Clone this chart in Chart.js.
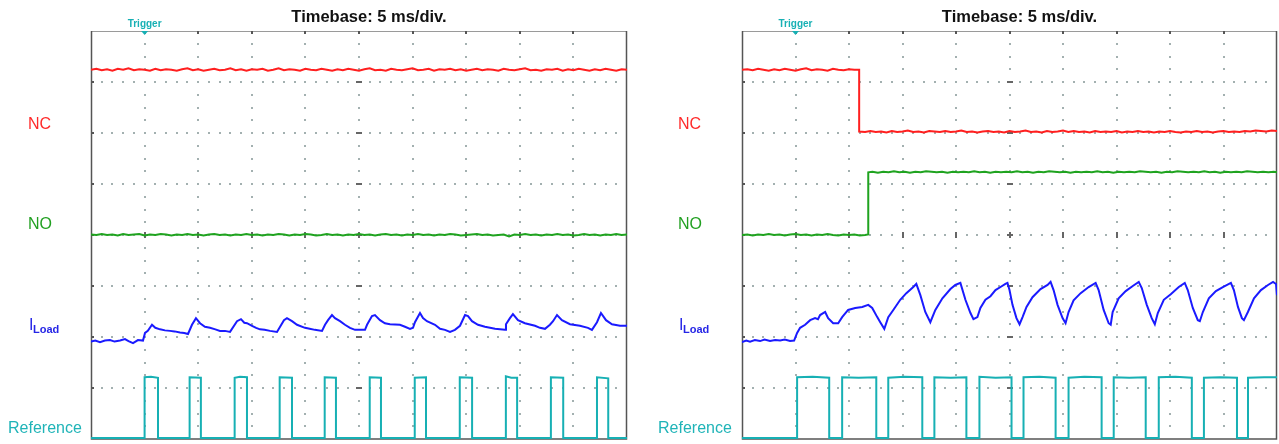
<!DOCTYPE html>
<html>
<head>
<meta charset="utf-8">
<script src="https://cdn.jsdelivr.net/npm/chart.js@4.4.1/dist/chart.umd.min.js"></script>
<style>
  html, body { margin: 0; padding: 0; background: #fff; }
  #wrap { position: relative; width: 1279px; height: 444px; }
  canvas { position: absolute; top: 0; }
</style>
</head>
<body>
<div id="wrap">
  <canvas id="left" width="640" height="444" style="left:0"></canvas>
  <canvas id="right" width="639" height="444" style="left:640px"></canvas>
</div>
<script>
// x = time in ms (5 ms/div, 10 div), y = level in divisions (8 div)
const titleText = "Timebase: 5 ms/div.";
const triggerText = "Trigger";
const triggerTime = 5;
const traceNames = ["NC", "NO", "ILoad", "Reference"];

// ---- left capture: relay not switching ----
const leftNC = [[0,7.24],[0.5,7.26],[1,7.23],[1.5,7.25],[2,7.22],[2.5,7.26],[3,7.24],[3.5,7.27],[4,7.23],[4.5,7.25],[5,7.24],[5.5,7.22],[6,7.26],[6.5,7.23],[7,7.25],[7.5,7.24],[8,7.22],[8.5,7.25],[9,7.27],[9.5,7.23],[10,7.25],[10.5,7.22],[11,7.24],[11.5,7.26],[12,7.23],[12.5,7.24],[13,7.27],[13.5,7.23],[14,7.25],[14.5,7.22],[15,7.25],[15.5,7.24],[16,7.26],[16.5,7.22],[17,7.24],[17.5,7.27],[18,7.23],[18.5,7.25],[19,7.24],[19.5,7.22],[20,7.26],[20.5,7.24],[21,7.23],[21.5,7.26],[22,7.24],[22.5,7.22],[23,7.25],[23.5,7.23],[24,7.26],[24.5,7.24],[25,7.22],[25.5,7.25],[26,7.27],[26.5,7.23],[27,7.24],[27.5,7.22],[28,7.26],[28.5,7.24],[29,7.23],[29.5,7.25],[30,7.27],[30.5,7.23],[31,7.24],[31.5,7.26],[32,7.22],[32.5,7.25],[33,7.24],[33.5,7.26],[34,7.23],[34.5,7.25],[35,7.22],[35.5,7.24],[36,7.26],[36.5,7.23],[37,7.25],[37.5,7.24],[38,7.22],[38.5,7.26],[39,7.24],[39.5,7.23],[40,7.25],[40.5,7.27],[41,7.23],[41.5,7.24],[42,7.22],[42.5,7.25],[43,7.24],[43.5,7.26],[44,7.22],[44.5,7.25],[45,7.23],[45.5,7.26],[46,7.24],[46.5,7.22],[47,7.25],[47.5,7.23],[48,7.26],[48.5,7.24],[49,7.22],[49.5,7.25],[50,7.24]];

const leftNO = [[0,4.01],[0.5,4.0],[1,4.02],[1.5,4.0],[2,4.01],[2.5,3.99],[3,4.02],[3.5,4.0],[4,4.01],[4.5,4.02],[5,3.99],[5.5,4.01],[6,4.0],[6.5,4.02],[7,4.01],[7.5,3.99],[8,4.01],[8.5,4.0],[9,4.02],[9.5,4.0],[10,4.01],[10.5,3.99],[11,4.01],[11.5,4.02],[12,4.0],[12.5,4.01],[13,3.99],[13.5,4.01],[14,4.0],[14.5,4.02],[15,4.0],[15.5,4.01],[16,3.99],[16.5,4.01],[17,4.0],[17.5,4.02],[18,4.01],[18.5,3.99],[19,4.01],[19.5,4.0],[20,4.02],[20.5,4.01],[21,3.99],[21.5,4.0],[22,4.02],[22.5,4.0],[23,4.01],[23.5,3.99],[24,4.01],[24.5,4.0],[25,4.02],[25.5,4.0],[26,4.01],[26.5,3.99],[27,4.01],[27.5,4.02],[28,4.0],[28.5,4.01],[29,3.99],[29.5,4.01],[30,4.0],[30.5,4.02],[31,4.0],[31.5,4.01],[32,3.99],[32.5,4.01],[33,4.0],[33.5,4.02],[34,4.01],[34.5,3.99],[35,4.0],[35.5,4.01],[36,4.02],[36.5,4.0],[37,4.01],[37.5,3.99],[38,4.0],[38.5,4.01],[39,3.97],[39.5,4.01],[40,4.0],[40.5,4.02],[41,4.0],[41.5,4.01],[42,3.99],[42.5,4.01],[43,4.0],[43.5,4.02],[44,4.0],[44.5,4.01],[45,3.99],[45.5,4.0],[46,4.02],[46.5,4.0],[47,4.01],[47.5,3.99],[48,4.01],[48.5,4.0],[49,4.02],[49.5,4.0],[50,4.01]];

const leftILoad = [[0,1.91],[0.4,1.93],[0.84,1.90],[1.3,1.93],[1.77,1.94],[2.2,1.91],[2.71,1.93],[3.17,1.96],[3.5,1.92],[3.92,1.88],[4.38,1.94],[4.85,1.93],
  [5.04,2.08],[5.3,2.12],[5.69,2.24],[6.0,2.18],[6.44,2.15],[6.9,2.13],[7.37,2.12],[7.8,2.11],[8.30,2.09],[8.7,2.08],[9.05,2.06],
  [9.42,2.24],[9.79,2.37],[10.17,2.27],[10.63,2.20],[11.10,2.18],[11.6,2.15],[12.03,2.12],[12.5,2.12],[12.97,2.10],
  [13.62,2.31],[13.99,2.35],[14.3,2.28],[14.55,2.27],[15.02,2.22],[15.4,2.18],[15.76,2.15],[16.2,2.14],[16.70,2.12],[17.35,2.10],
  [18.00,2.33],[18.28,2.37],[18.75,2.31],[19.22,2.24],[19.96,2.18],[20.4,2.16],[20.89,2.14],[21.55,2.12],
  [21.83,2.24],[22.11,2.33],[22.48,2.43],[22.76,2.37],[23.23,2.31],[23.69,2.24],[24.16,2.18],[24.63,2.14],[25.09,2.14],[25.56,2.14],
  [25.75,2.24],[26.21,2.41],[26.49,2.43],[26.96,2.33],[27.42,2.27],[27.89,2.25],[28.82,2.24],[29.29,2.20],[29.76,2.16],[30.04,2.18],
  [30.22,2.29],[30.69,2.47],[30.97,2.37],[31.34,2.31],[32.09,2.24],[32.56,2.16],[33.02,2.14],[33.49,2.10],[33.95,2.14],[34.42,2.22],
  [34.89,2.43],[35.17,2.41],[35.54,2.31],[36.10,2.24],[36.75,2.20],[37.69,2.16],[38.62,2.14],
  [38.71,2.25],[39.08,2.37],[39.36,2.45],[39.83,2.33],[40.48,2.27],[41.42,2.22],[41.88,2.18],[42.35,2.16],[42.81,2.24],
  [43.10,2.31],[43.47,2.43],[43.93,2.33],[44.68,2.25],[45.61,2.22],[46.36,2.18],[46.73,2.14],
  [47.20,2.29],[47.57,2.47],[48.04,2.33],[48.60,2.25],[49.35,2.22],[50,2.22]];

const leftRef = [[0,0.02],[5.0,0.02],[5.0,1.21],[5.6,1.22],[6.25,1.2],[6.25,0.02],[9.2,0.02],[9.2,1.21],[10.25,1.2],[10.25,0.02],
  [13.4,0.02],[13.4,1.2],[13.9,1.22],[14.55,1.21],[14.55,0.02],[17.6,0.02],[17.6,1.21],[18.75,1.2],[18.75,0.02],
  [21.8,0.02],[21.8,1.21],[22.85,1.2],[22.85,0.02],[26.0,0.02],[26.0,1.21],[27.05,1.2],[27.05,0.02],
  [30.2,0.02],[30.2,1.2],[31.25,1.21],[31.25,0.02],[34.4,0.02],[34.4,1.21],[35.55,1.2],[35.55,0.02],
  [38.7,0.02],[38.7,1.23],[39.2,1.2],[39.75,1.2],[39.75,0.02],[42.9,0.02],[42.9,1.21],[44.05,1.2],[44.05,0.02],
  [47.2,0.02],[47.2,1.21],[48.25,1.19],[48.25,0.02],[50,0.02]];

// ---- right capture: relay switching ----
const rightNC = [[0,7.24],[0.5,7.25],[1,7.23],[1.5,7.26],[2,7.24],[2.5,7.22],[3,7.25],[3.5,7.23],[4,7.26],[4.5,7.24],[5,7.22],[5.5,7.25],[6,7.27],[6.5,7.23],[7,7.25],[7.5,7.24],[8,7.22],[8.5,7.26],[9,7.24],[9.5,7.23],[10,7.25],[10.5,7.24],[10.95,7.24],
  [10.95,6.03],[11.5,6.02],[12,6.04],[12.5,6.02],[13,6.03],[13.5,6.01],[14,6.04],[14.5,6.02],[15,6.03],[15.5,6.05],[16,6.02],[16.5,6.03],[17,6.01],[17.5,6.04],[18,6.03],[18.5,6.02],[19,6.04],[19.5,6.02],[20,6.03],[20.5,6.05],[21,6.02],[21.5,6.03],[22,6.01],[22.5,6.03],[23,6.04],[23.5,6.02],[24,6.03],[24.5,6.01],[25,6.04],[25.5,6.02],[26,6.03],[26.5,6.05],[27,6.02],[27.5,6.03],[28,6.01],[28.5,6.04],[29,6.02],[29.5,6.03],[30,6.05],[30.5,6.02],[31,6.04],[31.5,6.02],[32,6.03],[32.5,6.01],[33,6.04],[33.5,6.02],[34,6.03],[34.5,6.02],[35,6.04],[35.5,6.01],[36,6.03],[36.5,6.02],[37,6.04],[37.5,6.02],[38,6.03],[38.5,6.01],[39,6.03],[39.5,6.02],[40,6.04],[40.5,6.02],[41,6.01],[41.5,6.03],[42,6.02],[42.5,6.04],[43,6.02],[43.5,6.03],[44,6.01],[44.5,6.03],[45,6.04],[45.5,6.02],[46,6.03],[46.5,6.02],[47,6.04],[47.5,6.03],[48,6.05],[48.5,6.04],[49,6.03],[49.5,6.05],[50,6.04]];

const rightNO = [[0,4.0],[0.5,4.01],[1,3.99],[1.5,4.01],[2,4.0],[2.5,4.02],[3,4.0],[3.5,4.01],[4,3.99],[4.5,4.01],[5,4.02],[5.5,4.0],[6,4.01],[6.5,3.99],[7,4.01],[7.5,4.0],[8,4.02],[8.5,4.0],[9,3.99],[9.5,4.01],[10,4.0],[10.5,4.01],[11,3.99],[11.5,4.0],[11.8,4.01],
  [11.8,5.23],[12.2,5.24],[12.7,5.22],[13.2,5.24],[13.7,5.23],[14.2,5.25],[14.7,5.23],[15.2,5.24],[15.7,5.22],[16.2,5.24],[16.7,5.23],[17.2,5.25],[17.7,5.24],[18.2,5.23],[18.7,5.24],[19.2,5.22],[19.7,5.24],[20.2,5.23],[20.7,5.24],[21.2,5.23],[21.7,5.25],[22.2,5.23],[22.7,5.24],[23.2,5.22],[23.7,5.24],[24.2,5.23],[24.7,5.24],[25.2,5.23],[25.7,5.25],[26.2,5.23],[26.7,5.24],[27.2,5.22],[27.7,5.24],[28.2,5.23],[28.7,5.25],[29.2,5.24],[29.7,5.23],[30.2,5.24],[30.7,5.22],[31.2,5.24],[31.7,5.23],[32.2,5.24],[32.7,5.23],[33.2,5.25],[33.7,5.23],[34.2,5.24],[34.7,5.22],[35.2,5.24],[35.7,5.23],[36.2,5.24],[36.7,5.23],[37.2,5.25],[37.7,5.24],[38.2,5.23],[38.7,5.24],[39.2,5.22],[39.7,5.24],[40.2,5.23],[40.7,5.25],[41.2,5.24],[41.7,5.23],[42.2,5.24],[42.7,5.23],[43.2,5.25],[43.7,5.23],[44.2,5.24],[44.7,5.22],[45.2,5.24],[45.7,5.23],[46.2,5.24],[46.7,5.23],[47.2,5.25],[47.7,5.24],[48.2,5.23],[48.7,5.24],[49.2,5.23],[49.7,5.24],[50,5.23]];

const rightILoad = [[0,1.90],[0.4,1.93],[0.75,1.91],[1.2,1.94],[1.69,1.92],[2.1,1.95],[2.62,1.92],[3.1,1.94],[3.56,1.93],[4.0,1.95],[4.49,1.92],[4.87,1.93],
  [5.15,2.08],[5.43,2.18],[5.90,2.24],[6.37,2.33],[6.83,2.37],[7.1,2.35],[7.30,2.43],[7.77,2.49],[8.05,2.37],[8.52,2.27],[8.99,2.27],
  [9.36,2.39],[9.92,2.53],[10.58,2.57],[11.24,2.59],[11.80,2.63],[12.17,2.57],[12.64,2.39],[12.92,2.29],[13.30,2.16],
  [13.67,2.39],[14.14,2.53],[14.79,2.73],[15.36,2.86],[16.01,2.98],[16.29,3.04],[16.67,2.82],[17.13,2.49],[17.60,2.29],
  [18.07,2.53],[18.73,2.76],[19.48,2.94],[19.94,3.02],[20.41,3.06],[20.88,2.73],[21.35,2.47],[21.63,2.35],[22.00,2.39],
  [22.28,2.57],[22.75,2.73],[23.22,2.80],[23.69,2.92],[24.16,2.98],[24.62,3.04],[24.81,3.06],[25.00,2.92],[25.28,2.63],[25.65,2.37],[25.94,2.25],
  [26.22,2.39],[26.59,2.59],[27.15,2.78],[27.90,2.94],[28.56,3.02],[28.84,3.08],[29.12,2.92],[29.49,2.63],[29.96,2.37],[30.24,2.27],
  [30.52,2.49],[30.99,2.72],[31.65,2.86],[32.40,2.98],[33.05,3.06],[33.33,2.92],[33.80,2.53],[34.27,2.27],[34.46,2.24],
  [34.64,2.49],[35.20,2.76],[35.86,2.90],[36.52,3.00],[37.08,3.08],[37.36,2.96],[37.83,2.63],[38.29,2.37],[38.58,2.25],
  [38.86,2.47],[39.42,2.73],[40.07,2.84],[40.82,2.98],[41.38,3.06],[41.66,2.92],[42.13,2.57],[42.60,2.33],[42.79,2.31],
  [43.07,2.49],[43.63,2.76],[44.29,2.90],[44.94,2.98],[45.69,3.06],[45.97,2.92],[46.35,2.59],[46.72,2.37],[46.91,2.33],
  [47.28,2.49],[47.85,2.76],[48.50,2.92],[49.16,3.02],[49.63,3.08],[49.91,3.04],[50,2.82]];

const rightRef = [[0,0.02],[5.15,0.02],[5.15,1.21],[6.6,1.22],[8.15,1.2],[8.15,0.02],[9.36,0.02],[9.36,1.21],[10.9,1.2],[12.55,1.21],[12.55,0.02],
  [13.67,0.02],[13.67,1.2],[15.2,1.22],[16.85,1.21],[16.85,0.02],[17.98,0.02],[17.98,1.21],[19.5,1.2],[20.97,1.21],[20.97,0.02],
  [22.19,0.02],[22.19,1.22],[23.7,1.2],[25.19,1.21],[25.19,0.02],[26.31,0.02],[26.31,1.21],[27.8,1.22],[29.31,1.2],[29.31,0.02],
  [30.52,0.02],[30.52,1.2],[32.0,1.22],[33.61,1.21],[33.61,0.02],[34.74,0.02],[34.74,1.21],[36.2,1.2],[37.73,1.21],[37.73,0.02],
  [38.95,0.02],[38.95,1.21],[40.5,1.22],[42.04,1.2],[42.04,0.02],[43.17,0.02],[43.17,1.2],[44.7,1.21],[46.26,1.2],[46.26,0.02],
  [47.29,0.02],[47.29,1.2],[48.8,1.21],[50,1.21]];

// ---- drawing ----
const traceColors = ["#ff1f1f", "#1fa31f", "#1a1aff", "#17b0b4"];
const labelColors = ["#ff2a2a", "#22a022", "#2626e6", "#20b4b8"];
const labelLevels = [6.16, 4.2, 2.2, 0.21];

const scopePlugin = {
  id: "scope",
  beforeDatasetsDraw(chart) {
    const { ctx, chartArea: a, scales: { x, y } } = chart;
    ctx.save();
    // dotted graticule
    ctx.fillStyle = "#a3b0b0";
    for (let i = 1; i < 10; i++) {
      const px = Math.round(x.getPixelForValue(i * 5));
      for (let k = 1; k < 32; k++) {
        const py = Math.round(y.getPixelForValue(k * 0.25));
        ctx.fillRect(px - 1, py - 1, 2, 2);
      }
    }
    for (let j = 1; j < 8; j++) {
      const py = Math.round(y.getPixelForValue(j));
      for (let k = 1; k < 50; k++) {
        const px = Math.round(x.getPixelForValue(k));
        ctx.fillRect(px - 1, py - 1, 2, 2);
      }
    }
    // centre axis marks
    ctx.fillStyle = "#666";
    const cx = Math.round(x.getPixelForValue(25));
    for (let j = 1; j < 8; j++) {
      const py = Math.round(y.getPixelForValue(j));
      ctx.fillRect(cx - 3, py - 1, 6, 2);
    }
    const cy = Math.round(y.getPixelForValue(4));
    for (let i = 1; i < 10; i++) {
      const px = Math.round(x.getPixelForValue(i * 5));
      ctx.fillRect(px - 1, cy - 3, 2, 6);
    }
    // frame
    ctx.strokeStyle = "#9a9a9a";
    ctx.lineWidth = 1;
    ctx.beginPath();
    ctx.moveTo(a.left, a.top + 0.5);
    ctx.lineTo(a.right, a.top + 0.5);
    ctx.stroke();
    ctx.strokeStyle = "#555";
    ctx.lineWidth = 1.5;
    ctx.beginPath();
    ctx.moveTo(a.left + 0.5, a.top);
    ctx.lineTo(a.left + 0.5, a.bottom);
    ctx.lineTo(a.right - 0.5, a.bottom);
    ctx.lineTo(a.right - 0.5, a.top);
    ctx.stroke();
    ctx.fillStyle = "#555";
    for (let i = 1; i < 10; i++) {
      const px = Math.round(x.getPixelForValue(i * 5));
      ctx.fillRect(px - 1, a.top, 2, 3);
    }
    for (let j = 1; j < 8; j++) {
      const py = Math.round(y.getPixelForValue(j));
      ctx.fillRect(a.left, py - 1, 3, 2);
    }
    ctx.restore();
  },
  afterDraw(chart, args, opts) {
    const { ctx, chartArea: a, scales: { x, y } } = chart;
    ctx.save();
    // title
    ctx.fillStyle = "#111";
    ctx.font = "bold 16.5px 'Liberation Sans', Arial, sans-serif";
    ctx.textAlign = "center";
    ctx.textBaseline = "middle";
    ctx.fillText(titleText, (a.left + a.right) / 2 + 10, 17);
    // trigger
    const tx = x.getPixelForValue(triggerTime);
    ctx.fillStyle = "#17b0b4";
    ctx.font = "bold 10px 'Liberation Sans', Arial, sans-serif";
    ctx.fillText(triggerText, tx, 24);
    ctx.beginPath();
    ctx.moveTo(tx - 3.5, a.top);
    ctx.lineTo(tx + 3.5, a.top);
    ctx.lineTo(tx, a.top + 4);
    ctx.closePath();
    ctx.fill();
    // trace names
    ctx.textAlign = "left";
    traceNames.forEach((name, i) => {
      const py = y.getPixelForValue(labelLevels[i]);
      const lx = (name === "Reference" ? opts.refX : opts.labelX);
      ctx.fillStyle = labelColors[i];
      if (name === "ILoad") {
        ctx.font = "16px 'Liberation Sans', Arial, sans-serif";
        ctx.fillText("I", lx + 1, py - 1);
        ctx.font = "bold 11px 'Liberation Sans', Arial, sans-serif";
        ctx.fillText("Load", lx + 5, py + 3);
      } else {
        ctx.font = "16px 'Liberation Sans', Arial, sans-serif";
        ctx.fillText(name, lx, py);
      }
    });
    ctx.restore();
  }
};

function makeScope(id, padLeft, padRight, labelX, refX, traces) {
  return new Chart(document.getElementById(id), {
    type: "line",
    data: {
      datasets: traces.map((t, i) => ({
        label: traceNames[i],
        data: t.map(p => ({ x: p[0], y: p[1] })),
        borderColor: traceColors[i],
        borderWidth: 2,
        pointRadius: 0,
        tension: 0,
        fill: false
      }))
    },
    options: {
      responsive: false,
      animation: false,
      devicePixelRatio: 1,
      layout: { padding: { left: padLeft, right: padRight, top: 31, bottom: 5 } },
      scales: {
        x: { type: "linear", min: 0, max: 50, display: false },
        y: { type: "linear", min: 0, max: 8, display: false }
      },
      plugins: {
        legend: { display: false },
        tooltip: { enabled: false },
        scope: { labelX: labelX, refX: refX }
      }
    },
    plugins: [scopePlugin]
  });
}

makeScope("left", 91, 13, 28, 8, [leftNC, leftNO, leftILoad, leftRef]);
makeScope("right", 102, 2, 38, 18, [rightNC, rightNO, rightILoad, rightRef]);
</script>
</body>
</html>
